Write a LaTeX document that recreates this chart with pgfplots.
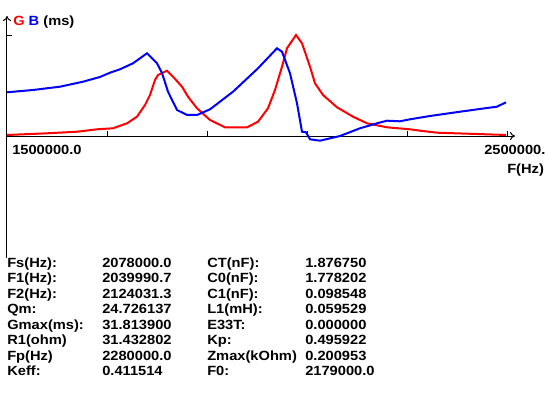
\documentclass[border=0pt]{standalone}
\usepackage{pgfplots}
\pgfplotsset{compat=1.18}
\usetikzlibrary{arrows.meta}
\usepackage{fontspec}
\setmainfont{Liberation Sans}[FakeStretch=1.1]
\newcommand\T[3]{\node[anchor=base west,inner sep=0pt,font=\fontsize{10pt}{12pt}\selectfont\bfseries] at ({#1*0.75pt},{(394-#2)*0.75pt}) {#3};}
\begin{document}
\begin{tikzpicture}
\fill[white] (0,0) rectangle (408.75pt,295.5pt);
\useasboundingbox (0,0) rectangle (408.75pt,295.5pt);
\begin{axis}[at={(5.25pt,102pt)}, anchor=south west, scale only axis,
  width=381pt, height=181.5pt,
  xmin=1500000, xmax=2516000, ymin=-38.43, ymax=37.8,
  axis x line=middle, axis y line=left,
  axis line style={line width=0.75pt, black, -{To[length=3.75pt,width=6pt]}},
  xtick={1700000,1900000,2100000,2300000,2500000}, ytick={31.8139},
  xticklabels={,,,,,}, yticklabels={,,},
  scaled x ticks=false, scaled y ticks=false,
  tick align=inside, major tick length=3.75pt,
  tick style={line width=0.75pt, black},
  clip=false]
\addplot[red, line width=1.5pt] coordinates {
(1500000,0.32) (1580000,0.85) (1640000,1.35) (1680000,2.11) (1712000,2.43)
(1740000,4.00) (1760000,6.08) (1776000,9.77) (1786000,12.92) (1796000,17.64)
(1802000,19.22) (1820000,20.57) (1832000,18.68) (1850000,15.53) (1862000,12.38)
(1880000,8.73) (1906000,5.04) (1936000,2.74) (1980000,2.74) (2002000,4.50)
(2022000,8.73) (2036000,14.49) (2050000,21.83) (2060000,27.63) (2078000,31.81)
(2090000,29.20) (2106000,21.83) (2116000,16.60) (2132000,12.92) (2160000,9.04)
(2192000,6.08) (2220000,4.00) (2260000,2.74) (2306000,2.11) (2326000,1.67)
(2360000,1.04) (2440000,0.63) (2498000,0.32)
};
\addplot[blue, line width=1.5pt] coordinates {
(1500000,13.77) (1552000,14.49) (1606000,15.53) (1652000,17.10) (1686000,18.59)
(1706000,19.94) (1726000,21.01) (1752000,22.90) (1780000,26.05) (1800000,22.90)
(1810000,19.85) (1822000,13.95) (1840000,8.19) (1860000,6.62) (1880000,6.62)
(1906000,8.41) (1952000,13.95) (2002000,21.33) (2040000,27.63) (2050000,26.55)
(2066000,19.75) (2080000,10.30) (2090000,1.35) (2098000,1.17) (2106000,-1.04)
(2126000,-1.48) (2166000,0) (2206000,2.43) (2240000,4.00) (2260000,4.82)
(2286000,4.63) (2306000,5.26) (2346000,6.30) (2406000,7.65) (2460000,8.82)
(2480000,9.23) (2498000,10.62)
};
\end{axis}
\T{13}{25}{\textcolor{red}{G} \textcolor{blue}{B} (ms)}
\T{12}{154}{1500000.0}
\T{484}{154}{2500000.}
\T{507}{173}{F(Hz)}
\T{7}{267}{Fs(Hz):}      \T{102}{267}{2078000.0}   \T{207}{267}{CT(nF):}      \T{305}{267}{1.876750}
\T{7}{282.5}{F1(Hz):}    \T{102}{282.5}{2039990.7} \T{207}{282.5}{C0(nF):}    \T{305}{282.5}{1.778202}
\T{7}{298}{F2(Hz):}      \T{102}{298}{2124031.3}   \T{207}{298}{C1(nF):}      \T{305}{298}{0.098548}
\T{7}{313.5}{Qm:}        \T{102}{313.5}{24.726137} \T{207}{313.5}{L1(mH):}    \T{305}{313.5}{0.059529}
\T{7}{329}{Gmax(ms):}    \T{102}{329}{31.813900}   \T{207}{329}{E33T:}        \T{305}{329}{0.000000}
\T{7}{344.5}{R1(ohm)}    \T{102}{344.5}{31.432802} \T{207}{344.5}{Kp:}        \T{305}{344.5}{0.495922}
\T{7}{360}{Fp(Hz)}       \T{102}{360}{2280000.0}   \T{207}{360}{Zmax(kOhm)}   \T{305}{360}{0.200953}
\T{7}{375.5}{Keff:}      \T{102}{375.5}{0.411514}  \T{207}{375.5}{F0:}        \T{305}{375.5}{2179000.0}
\end{tikzpicture}
\end{document}
